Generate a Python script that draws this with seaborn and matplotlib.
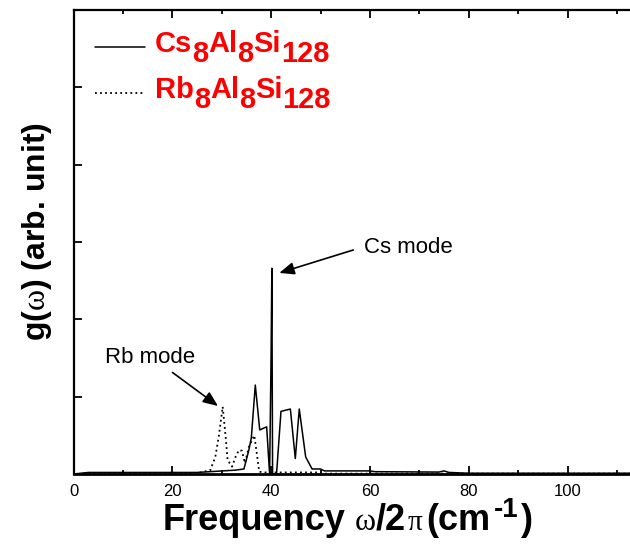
import matplotlib
matplotlib.use("Agg")
import matplotlib.pyplot as plt
import pandas as pd
import seaborn as sns
from matplotlib.legend_handler import HandlerLine2D
from matplotlib.ticker import FixedLocator, MultipleLocator, NullFormatter

# ---------------- data ----------------
cs_freq = [0, 3, 25, 32.8, 34.5, 35.5, 36.0, 36.8, 37.7, 39.1, 39.7, 40.0, 40.15, 40.3,
           41.1, 42.0, 43.9, 44.9, 45.7, 47.0, 48.3, 50.0, 50.8, 60.0, 61.0, 74.0, 75.0,
           76.0, 80.0, 120.0]
cs_g = [0.0, 0.02, 0.02, 0.05, 0.065, 0.31, 0.47, 1.15, 0.57, 0.61, 0.0, 1.55, 2.66, 0.0,
        0.0, 0.81, 0.84, 0.20, 0.84, 0.22, 0.065, 0.065, 0.04, 0.04, 0.03, 0.025, 0.04,
        0.02, 0.01, 0.01]

rb_freq = [0, 25, 27.7, 28.7, 29.4, 30.2, 30.8, 31.2, 32.1, 32.8, 33.5, 34.1, 34.7, 35.5,
           36.6, 37.2, 37.6, 38.5, 50.0, 51.0, 120.0]
rb_g = [0.0, 0.01, 0.05, 0.22, 0.48, 0.87, 0.48, 0.18, 0.095, 0.22, 0.31, 0.30, 0.14, 0.35,
        0.50, 0.22, 0.03, 0.02, 0.02, 0.005, 0.005]

# legend label pieces: (text, is_subscript)
cs_label = [("Cs", False), ("8", True), ("Al", False), ("8", True), ("Si", False), ("128", True)]
rb_label = [("Rb", False), ("8", True), ("Al", False), ("8", True), ("Si", False), ("128", True)]
x_major_ticks = [0, 20, 40, 60, 80, 100]
x_minor_ticks = [10, 30, 50, 70, 90, 110]
x_limits = (0, 120)
y_limits = (0, 6)

# ---------------- style ----------------
sns.set_style("ticks")
plt.rcParams["font.family"] = ["Liberation Sans", "DejaVu Sans"]
plt.rcParams["mathtext.fontset"] = "custom"
plt.rcParams["mathtext.it"] = "Liberation Serif"
plt.rcParams["mathtext.rm"] = "Liberation Sans:bold"
plt.rcParams["mathtext.bf"] = "Liberation Sans:bold"
plt.rcParams["axes.edgecolor"] = "black"
plt.rcParams["text.color"] = "black"
plt.rcParams["xtick.color"] = "black"
plt.rcParams["ytick.color"] = "black"

W, H = 630, 545
fig = plt.figure(figsize=(W / 100, H / 100), dpi=100)
ax = fig.add_axes([73.5 / W, 71 / H, 120 * 4.94 / W, 464 / H])

df_cs = pd.DataFrame({"freq": cs_freq, "g": cs_g})
df_rb = pd.DataFrame({"freq": rb_freq, "g": rb_g})

sns.lineplot(data=df_cs, x="freq", y="g", ax=ax, color="black", linewidth=1.1,
             estimator=None, sort=False, zorder=3)
sns.lineplot(data=df_rb, x="freq", y="g", ax=ax, color="black", linewidth=1.3,
             linestyle=(0, (1, 1.8)), estimator=None, sort=False, zorder=3)

ax.set_xlim(*x_limits)
ax.set_ylim(*y_limits)
ax.xaxis.set_major_locator(FixedLocator(x_major_ticks))
ax.xaxis.set_minor_locator(FixedLocator(x_minor_ticks))
ax.yaxis.set_major_locator(MultipleLocator(1))
ax.yaxis.set_major_formatter(NullFormatter())
ax.tick_params(which="both", direction="in", top=True, right=True, width=1.3)
ax.tick_params(which="major", length=5.5)
ax.tick_params(which="minor", length=3)
ax.tick_params(axis="x", labelsize=12, pad=7)
for s in ax.spines.values():
    s.set_linewidth(1.6)
ax.spines["bottom"].set_linewidth(2.0)
ax.set_xlabel("")
ax.set_ylabel("")


# ---------------- legend ----------------
class LowLine(HandlerLine2D):
    """Line handle drawn a little lower (closer to the text baseline)."""

    def create_artists(self, legend, orig_handle, xdescent, ydescent, width, height,
                       fontsize, trans):
        return super().create_artists(legend, orig_handle, xdescent, ydescent + 8, width,
                                      height, fontsize, trans)


LEG_FS = 21
red = dict(fontsize=LEG_FS, fontweight="bold", color="#ff0000", family="Liberation Sans")
lines = ax.get_lines()
leg = ax.legend(handles=[lines[0], lines[1]], labels=[cs_label[0][0], rb_label[0][0]],
                handler_map={lines[0]: LowLine(), lines[1]: LowLine()},
                loc="upper left", bbox_to_anchor=(95 / W, 1 - 30 / H),
                bbox_transform=fig.transFigure, frameon=False,
                prop={"family": "Liberation Sans", "weight": "bold", "size": LEG_FS},
                labelcolor="#ff0000", handlelength=1.71, handletextpad=0.34,
                labelspacing=0.62, borderpad=0, borderaxespad=0)


def chain_rel(first, pieces, drop, props):
    """Place text pieces one after another; subscripts are lowered by `drop` px."""
    prev = first
    prev_sub = pieces[0][1]
    for text, is_sub in pieces[1:]:
        dy = 0
        if is_sub and not prev_sub:
            dy = -drop
        elif prev_sub and not is_sub:
            dy = drop
        prev = ax.annotate(text, xy=(1, 0), xycoords=prev, xytext=(0, dy),
                           textcoords="offset pixels", ha="left", va="bottom",
                           annotation_clip=False, zorder=6, **props)
        prev_sub = is_sub


legend_texts = leg.get_texts()
chain_rel(legend_texts[0], cs_label, 10, red)
chain_rel(legend_texts[1], rb_label, 10, red)

# ---------------- axis labels ----------------
bold = dict(fontsize=26, fontweight="bold", color="black", family="Liberation Sans")
boldsup = dict(fontsize=20, fontweight="bold", color="black", family="Liberation Sans")
serif = dict(fontsize=23, color="black", family="Liberation Serif")
serif_pi = dict(fontsize=21, color="black", family="Liberation Serif")
xlabel_pieces = [("Frequency", 163, 0, bold), ("\u03c9", 355, 0, serif), ("/2", 376, 0, bold),
                 ("\u03c0", 408, 0, serif_pi), ("(cm", 426, 0, bold), ("-1", 494, 13, boldsup),
                 (")", 521, 0, bold)]
for text, xp, dy, props in xlabel_pieces:
    ax.annotate(text, xy=(xp, H - 530 + dy), xycoords="figure pixels", ha="left",
                va="baseline", annotation_clip=False, **props)

fig.text(37 / W, 1 - 232 / H, r"g($\omega$) (arb. unit)", rotation=90, ha="center",
         va="center", fontsize=23, fontweight="bold", family="Liberation Sans")

# ---------------- annotations ----------------
arrow = dict(arrowstyle="-|>,head_length=0.6,head_width=0.25", color="black", lw=1.2,
             shrinkA=0, shrinkB=0, mutation_scale=15)
ax.annotate("", xy=(41.66, 2.60), xytext=(56.64, 2.897), arrowprops=arrow)
ax.annotate("", xy=(29.25, 0.879), xytext=(20.04, 1.313), arrowprops=arrow)
ax.text(58.8, 2.858, "Cs mode", fontsize=16, ha="left", va="baseline")
ax.text(6.38, 1.435, "Rb mode", fontsize=16, ha="left", va="baseline")

fig.savefig("out.png", dpi=100)
